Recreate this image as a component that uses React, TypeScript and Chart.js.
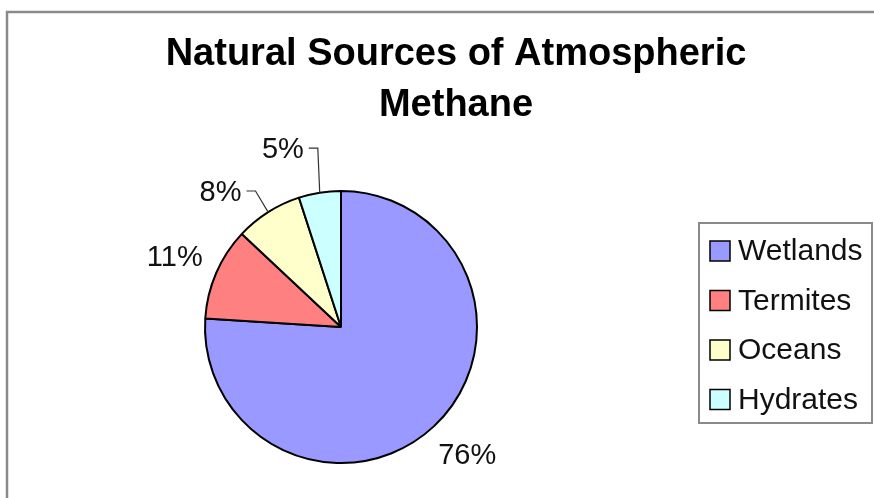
import React, { useEffect, useRef } from "react";
import { Chart, registerables } from "chart.js";

Chart.register(...registerables);

const TITLE_LINES = ["Natural Sources of Atmospheric", "Methane"];
const categories = ["Wetlands", "Termites", "Oceans", "Hydrates"];
const values = [76, 11, 8, 5];
const colors = ["#9999FF", "#FF8080", "#FFFFCC", "#CCFFFF"];

// label placement tweaks (px) relative to the default radial spot, and whether a leader line is drawn
const LABEL_NUDGE = [
  { dx: 3, dy: -4, leader: false },
  { dx: -1, dy: 0, leader: false },
  { dx: -24, dy: 16, leader: true },
  { dx: -30, dy: -1, leader: true },
];

const FONT = "'Liberation Sans', Arial, sans-serif";

const decorPlugin = {
  id: "decor",
  beforeDraw(chart: any) {
    const ctx = chart.ctx as CanvasRenderingContext2D;
    ctx.save();
    ctx.fillStyle = "#ffffff";
    ctx.fillRect(0, 0, chart.width, chart.height);
    ctx.strokeStyle = "#8a8a8a";
    ctx.lineWidth = 2.5;
    ctx.strokeRect(7, 12, 2000, 2000);
    ctx.restore();
  },
  afterDraw(chart: any) {
    const ctx = chart.ctx as CanvasRenderingContext2D;
    ctx.save();
    // title
    ctx.fillStyle = "#000000";
    ctx.font = `bold 38px ${FONT}`;
    ctx.textAlign = "center";
    ctx.textBaseline = "alphabetic";
    ctx.fillText(TITLE_LINES[0], 456, 65);
    ctx.fillText(TITLE_LINES[1], 456, 116);

    // data labels
    const meta = chart.getDatasetMeta(0);
    const total = values.reduce((a, b) => a + b, 0);
    ctx.font = `29px ${FONT}`;
    meta.data.forEach((arc: any, i: number) => {
      const { x, y, startAngle, endAngle, outerRadius } = arc.getProps(
        ["x", "y", "startAngle", "endAngle", "outerRadius"],
        true
      );
      const mid = (startAngle + endAngle) / 2;
      const dist = outerRadius + 44;
      const nudge = LABEL_NUDGE[i];
      const cx = x + Math.cos(mid) * dist + nudge.dx;
      const cy = y + Math.sin(mid) * dist + nudge.dy;
      const text = Math.round((values[i] / total) * 100) + "%";
      ctx.fillStyle = "#111111";
      ctx.textAlign = "center";
      ctx.fillText(text, cx, cy + 10);
      if (nudge.leader) {
        const w = ctx.measureText(text).width;
        const sx = cx + w / 2 + 5;
        const ex = x + Math.cos(mid) * outerRadius;
        const ey = y + Math.sin(mid) * outerRadius;
        ctx.strokeStyle = "#333333";
        ctx.lineWidth = 1.2;
        ctx.beginPath();
        ctx.moveTo(sx, cy);
        ctx.lineTo(sx + 9, cy);
        ctx.lineTo(ex, ey);
        ctx.stroke();
      }
    });

    // legend
    ctx.strokeStyle = "#8a8a8a";
    ctx.lineWidth = 2;
    ctx.strokeRect(699, 223, 173, 200);
    ctx.font = `30px ${FONT}`;
    ctx.textAlign = "left";
    categories.forEach((name, i) => {
      const rowY = 251 + i * 49.5;
      ctx.fillStyle = colors[i];
      ctx.fillRect(710, rowY - 10, 20, 20);
      ctx.strokeStyle = "#000000";
      ctx.lineWidth = 1.5;
      ctx.strokeRect(710, rowY - 10, 20, 20);
      ctx.fillStyle = "#111111";
      ctx.fillText(name, 738, rowY + 9);
    });
    ctx.restore();
  },
};

export default function App() {
  const ref = useRef<HTMLCanvasElement | null>(null);
  useEffect(() => {
    if (!ref.current) return;
    const chart = new Chart(ref.current, {
      type: "pie",
      data: {
        labels: categories,
        datasets: [
          {
            data: values,
            backgroundColor: colors,
            borderColor: "#000000",
            borderWidth: 2,
          },
        ],
      },
      options: {
        responsive: false,
        animation: false,
        layout: { padding: { left: 204, right: 396, top: 190, bottom: 34 } },
        plugins: {
          legend: { display: false },
          title: { display: false },
          tooltip: { enabled: false },
        },
      },
      plugins: [decorPlugin],
    });
    return () => chart.destroy();
  }, []);
  return (
    <div style={{ position: "absolute", left: 0, top: 0, width: 874, height: 498 }}>
      <canvas ref={ref} width={874} height={498} />
    </div>
  );
}
